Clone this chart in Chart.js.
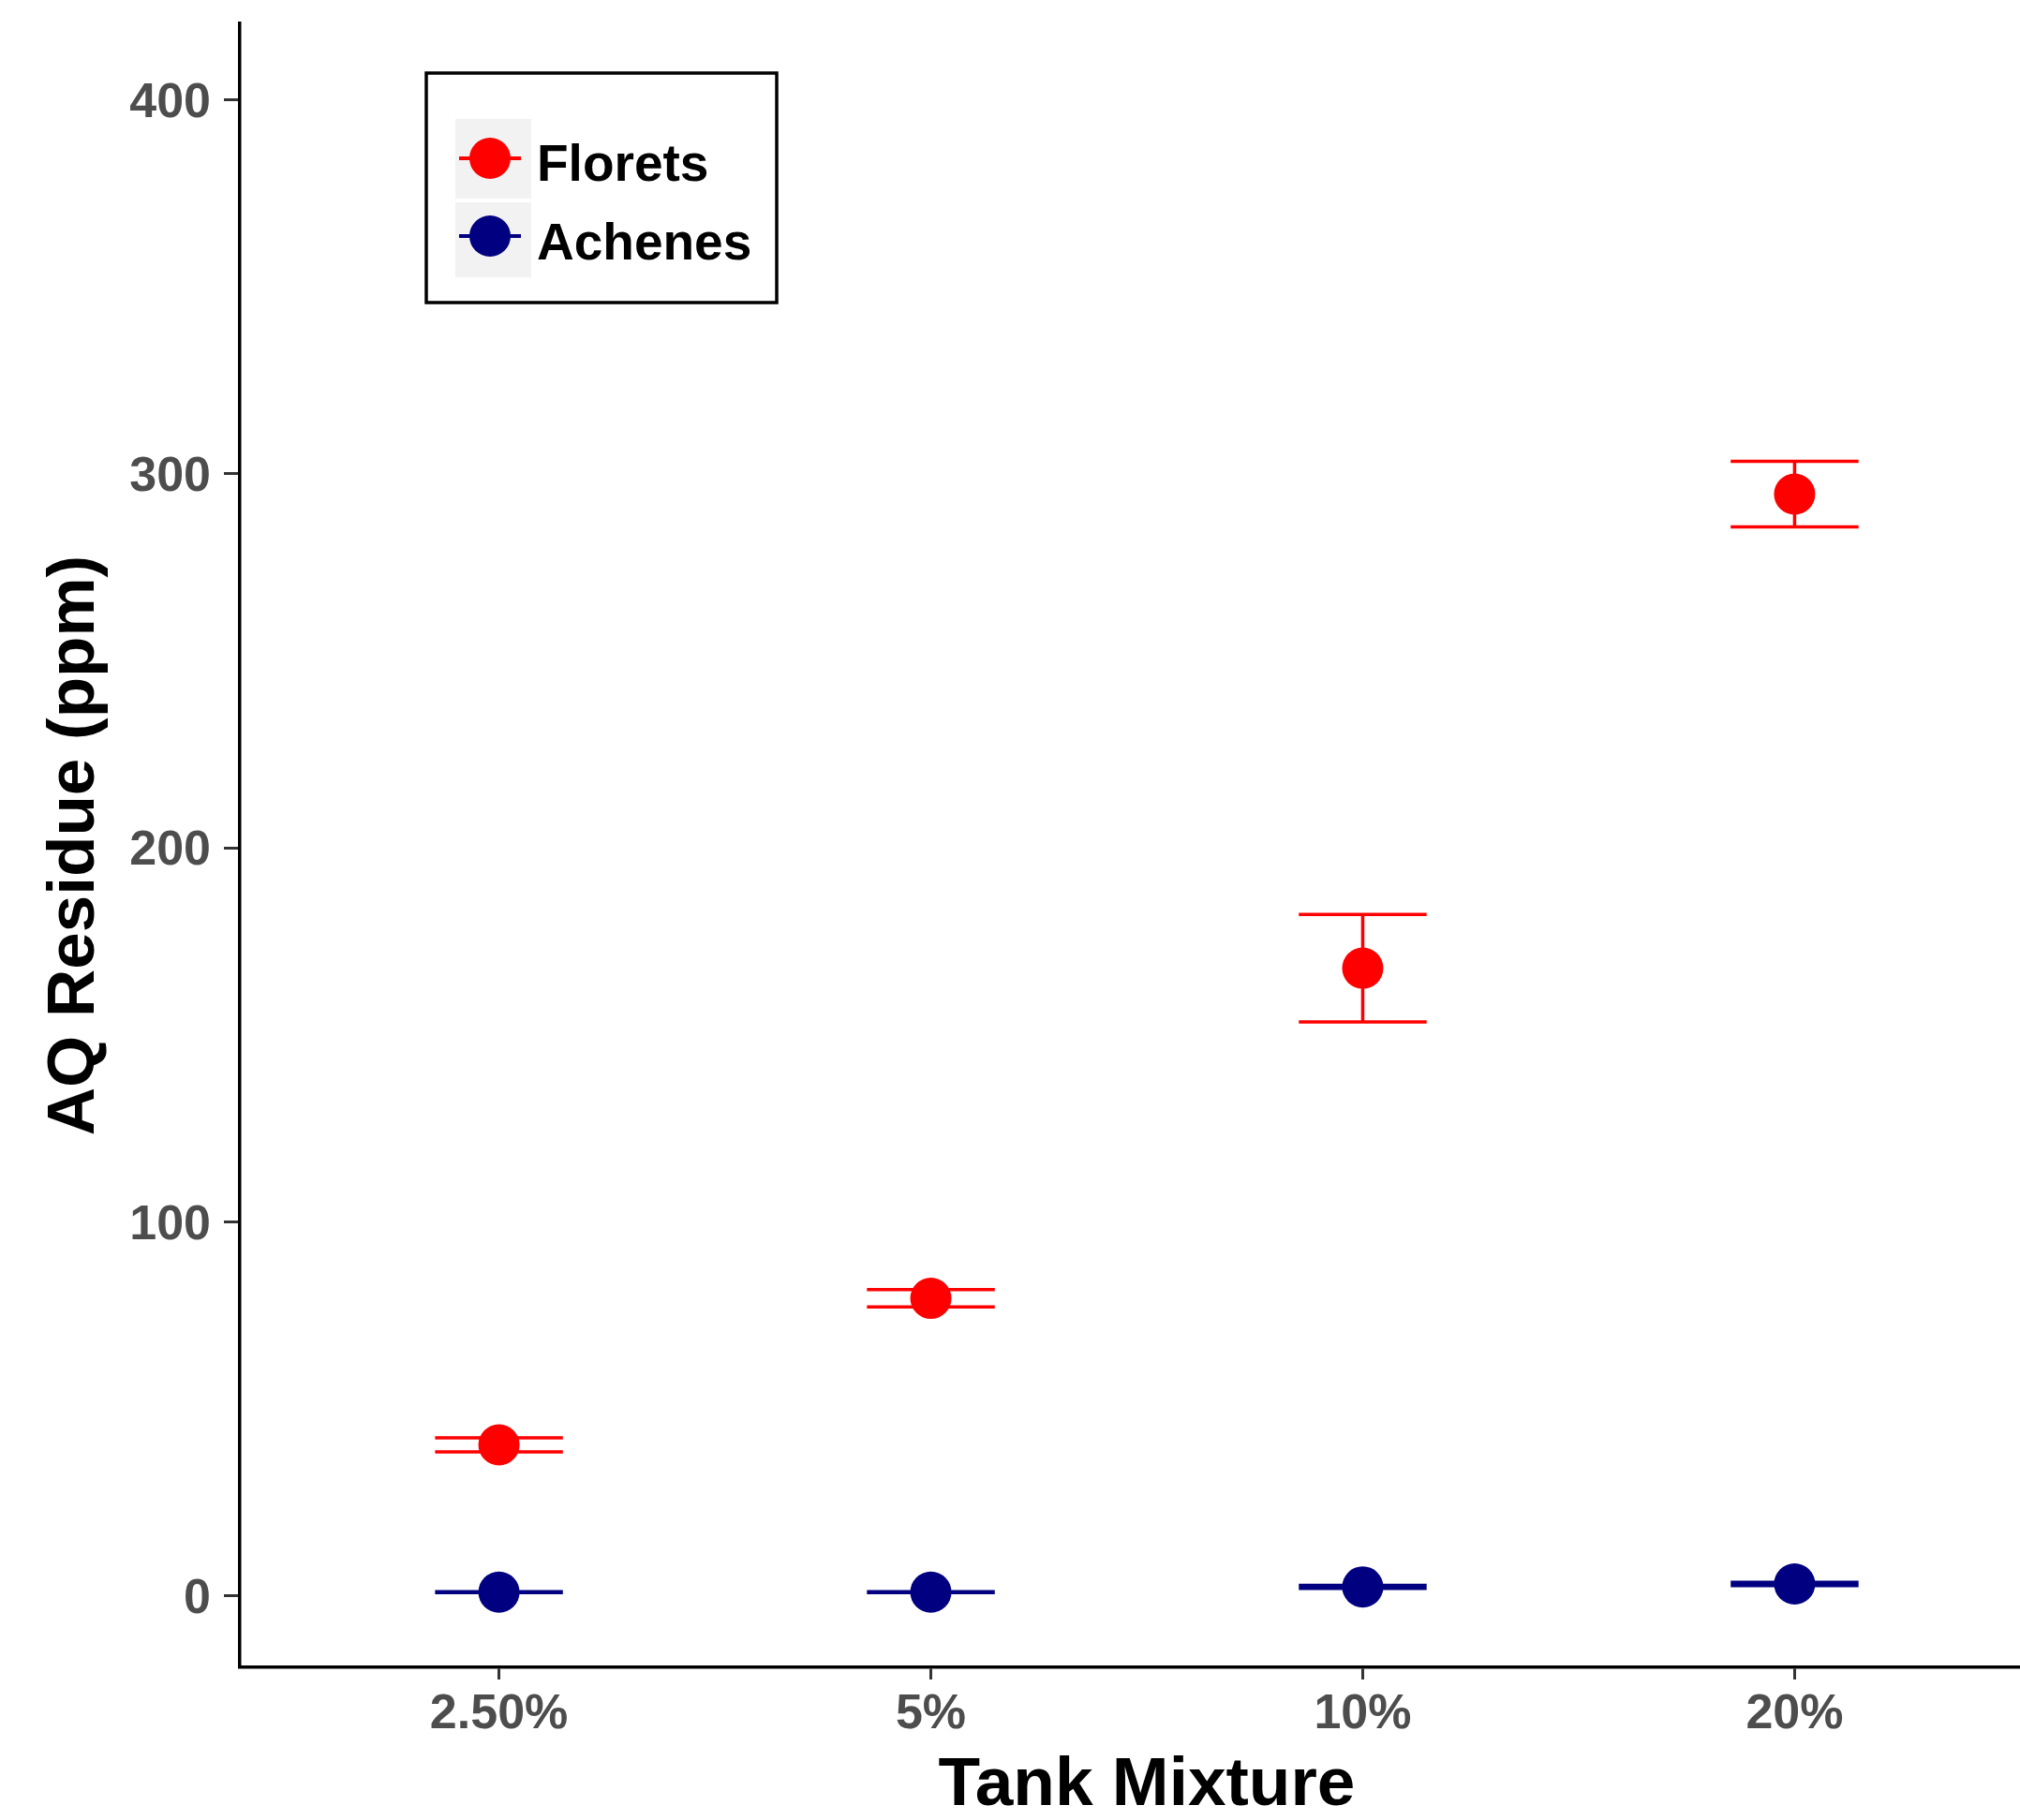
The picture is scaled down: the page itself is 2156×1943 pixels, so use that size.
<!DOCTYPE html>
<html>
<head>
<meta charset="utf-8">
<script src="https://cdn.jsdelivr.net/npm/chart.js@4/dist/chart.umd.min.js"></script>
<style>
  html, body { margin: 0; padding: 0; background: #ffffff; overflow: hidden; }
  #wrap { width: 2192px; height: 1943px; }
</style>
</head>
<body>
<div id="wrap"><canvas id="c" width="2192" height="1943"></canvas></div>
<script>
// ---- data ----
const categories = ['2.50%', '5%', '10%', '20%'];
const seriesNames = ['Florets', 'Achenes'];
const floretsMean = [40.3, 79.5, 167.8, 294.6];
const floretsErr  = [1.9, 2.3, 14.4, 8.75];
const achenesMean = [0.9, 0.9, 2.3, 3.1];
const achenesErr  = [0.1, 0.1, 0.4, 0.45];
const yTicks = [0, 100, 200, 300, 400];

const FONT = "'Liberation Sans', Arial, sans-serif";
const colors = ['#FF0000', '#000080'];

const toPoints = (arr) => arr.map((v, i) => ({ x: i, y: v }));

const errorBars = {
  id: 'errorBars',
  beforeDatasetsDraw(chart) {
    const ctx = chart.ctx;
    const xs = chart.scales.x, ys = chart.scales.y;
    chart.data.datasets.forEach((ds) => {
      ctx.save();
      ctx.strokeStyle = ds.backgroundColor;
      ctx.lineWidth = 3.5;
      ds.data.forEach((p, i) => {
        const e = ds.errors[i];
        const xc = xs.getPixelForValue(p.x);
        const xl = xs.getPixelForValue(p.x - 0.148);
        const xr = xs.getPixelForValue(p.x + 0.148);
        const yt = ys.getPixelForValue(p.y + e);
        const yb = ys.getPixelForValue(p.y - e);
        ctx.beginPath();
        ctx.moveTo(xc, yt); ctx.lineTo(xc, yb);
        ctx.moveTo(xl, yt); ctx.lineTo(xr, yt);
        ctx.moveTo(xl, yb); ctx.lineTo(xr, yb);
        ctx.stroke();
      });
      ctx.restore();
    });
  }
};

const customLegend = {
  id: 'customLegend',
  afterDraw(chart) {
    const ctx = chart.ctx;
    ctx.save();
    ctx.strokeStyle = '#000000';
    ctx.lineWidth = 3.5;
    ctx.strokeRect(455, 78, 374, 245);
    const keys = [{ top: 127, h: 85, cy: 169, base: 193 }, { top: 216, h: 80, cy: 252, base: 277 }];
    chart.data.datasets.forEach((ds, k) => {
      const key = keys[k];
      ctx.fillStyle = '#F2F2F2';
      ctx.fillRect(486, key.top, 81, key.h);
      ctx.strokeStyle = ds.backgroundColor;
      ctx.lineWidth = 4;
      ctx.beginPath();
      ctx.moveTo(490, key.cy); ctx.lineTo(556, key.cy);
      ctx.stroke();
      ctx.fillStyle = ds.backgroundColor;
      ctx.beginPath();
      ctx.arc(523, key.cy, 22, 0, Math.PI * 2);
      ctx.fill();
      ctx.fillStyle = '#000000';
      ctx.font = 'bold 55px ' + FONT;
      ctx.textAlign = 'left';
      ctx.textBaseline = 'alphabetic';
      ctx.fillText(ds.label, 573, key.base);
    });
    ctx.restore();
  }
};

new Chart(document.getElementById('c'), {
  type: 'scatter',
  data: {
    datasets: [
      { label: seriesNames[0], data: toPoints(floretsMean), errors: floretsErr,
        backgroundColor: colors[0], borderColor: colors[0], borderWidth: 0,
        pointRadius: 22, pointHoverRadius: 22 },
      { label: seriesNames[1], data: toPoints(achenesMean), errors: achenesErr,
        backgroundColor: colors[1], borderColor: colors[1], borderWidth: 0,
        pointRadius: 22, pointHoverRadius: 22 }
    ]
  },
  options: {
    responsive: false,
    animation: false,
    devicePixelRatio: 1,
    layout: { autoPadding: false, padding: { top: 25, left: 0, right: 0, bottom: 0 } },
    plugins: { legend: { display: false }, tooltip: { enabled: false } },
    scales: {
      x: {
        type: 'linear',
        min: -0.6, max: 3.6,
        afterFit(s) { s.height = 163; s.paddingLeft = 0; s.paddingRight = 0; s.paddingTop = 0; s.paddingBottom = 0; },
        afterBuildTicks(s) { s.ticks = categories.map((c, i) => ({ value: i })); },
        ticks: {
          callback: (v) => categories[v],
          color: '#4D4D4D',
          font: { family: FONT, size: 52, weight: 'bold' },
          padding: 6,
          maxRotation: 0, autoSkip: false
        },
        grid: { display: true, drawOnChartArea: false, drawTicks: true,
                tickLength: 13, tickColor: '#333333', tickWidth: 3 },
        border: { display: true, color: '#000000', width: 3.5 },
        title: { display: true, text: 'Tank Mixture', color: '#000000',
                 font: { family: FONT, size: 73, weight: 'bold', lineHeight: 1 },
                 padding: { top: 0, bottom: 0 } }
      },
      y: {
        type: 'linear',
        min: -19.2, max: 420.5,
        afterFit(s) { s.width = 256; s.paddingTop = 0; s.paddingBottom = 0; s.paddingLeft = 0; s.paddingRight = 0; },
        afterBuildTicks(s) { s.ticks = yTicks.map(v => ({ value: v })); },
        ticks: {
          color: '#4D4D4D',
          font: { family: FONT, size: 52, weight: 'bold' },
          padding: 14,
          labelOffset: 4
        },
        grid: { display: true, drawOnChartArea: false, drawTicks: true,
                tickLength: 17, tickColor: '#333333', tickWidth: 3 },
        border: { display: true, color: '#000000', width: 3.5 },
        title: { display: true, text: 'AQ Residue (ppm)', color: '#000000',
                 font: { family: FONT, size: 71, weight: 'bold', lineHeight: 1 },
                 padding: { top: 45, bottom: 0 } }
      }
    }
  },
  plugins: [errorBars, customLegend]
});
</script>
</body>
</html>
